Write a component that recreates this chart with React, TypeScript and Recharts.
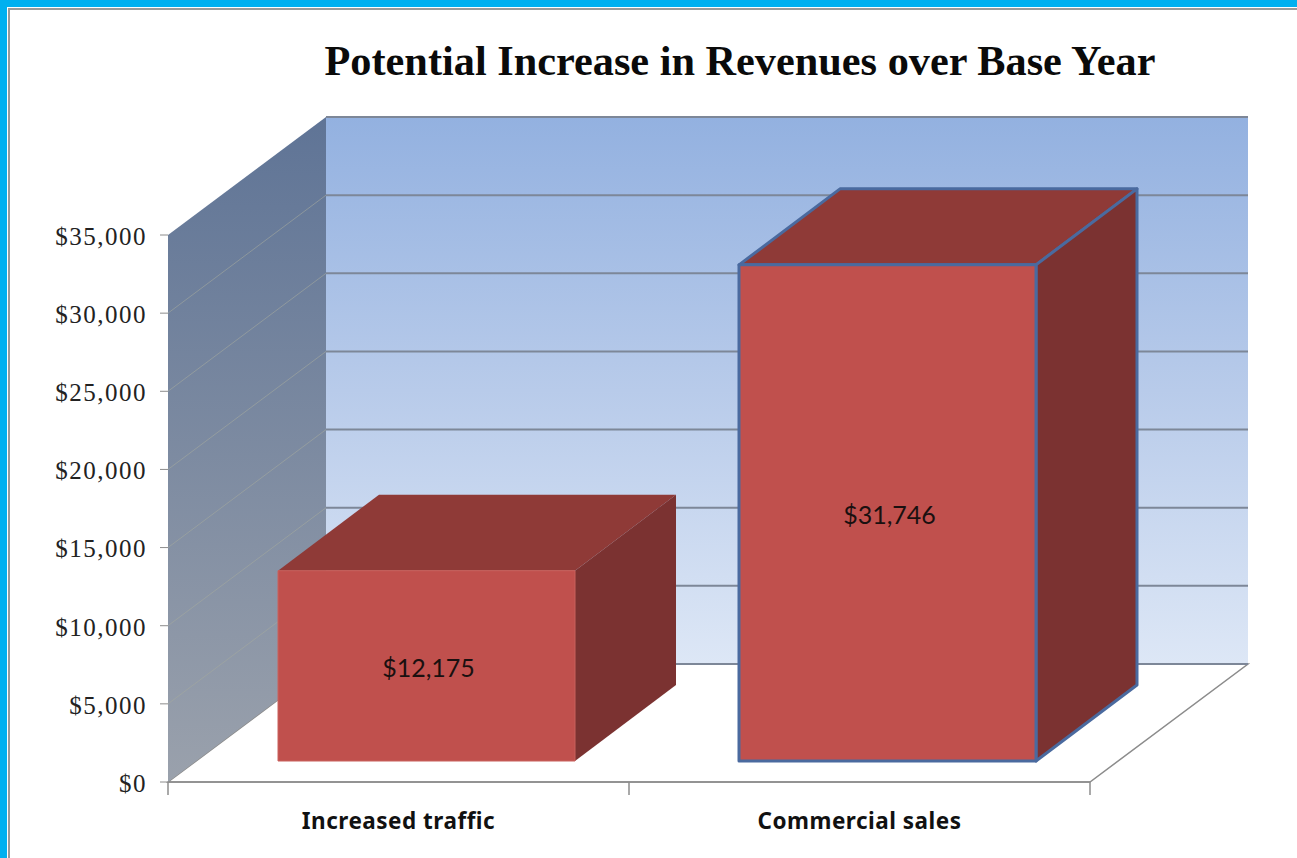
import { Bar, BarChart, LabelList, XAxis, YAxis } from "recharts"

const categories = ["Increased traffic", "Commercial sales"]
const revenues = [12175, 31746]
const yTicks = [0, 5000, 10000, 15000, 20000, 25000, 30000, 35000]
const barOutlines = ["#c9605c", "#4a6a9f"]

const chartData = categories.map((name, i) => ({ name, revenue: revenues[i] }))

const WIDTH = 1297
const HEIGHT = 858
const PLOT = { left: 168, right: 1090, top: 235, bottom: 782 }
const Y_MAX = 35000

// Receding offset of the whole chart box
const WALL_DX = 158
const WALL_DY = -118
// Where the bars sit inside the box, and how deep they are
const BAR_SHIFT_X = 28
const BAR_SHIFT_Y = -21
const BAR_DX = 101
const BAR_DY = -76

const formatDollars = (v: number) => `$${v.toLocaleString("en-US")}`
const valueToY = (v: number) =>
  PLOT.bottom - (v / Y_MAX) * (PLOT.bottom - PLOT.top)

// Side wall, back wall, floor, gridlines and the category separators under the axis
function ChartBox() {
  const { left, right, top, bottom } = PLOT
  const backLeft = left + WALL_DX
  const backRight = right + WALL_DX
  const bandWidth = (right - left) / categories.length
  const separators = [0, ...categories.map((_, i) => i + 1)].map((i) => left + i * bandWidth)
  return (
    <g>
      <defs>
        <linearGradient id="backWall" x1="0" y1="0" x2="0" y2="1">
          <stop offset="0%" stopColor="#93b1e0" />
          <stop offset="50%" stopColor="#b8cbea" />
          <stop offset="100%" stopColor="#dde7f6" />
        </linearGradient>
        <linearGradient id="sideWall" x1="0" y1="0" x2="0" y2="1">
          <stop offset="0%" stopColor="#5f7496" />
          <stop offset="100%" stopColor="#9aa1ac" />
        </linearGradient>
      </defs>
      <polygon
        points={`${left},${bottom} ${backLeft},${bottom + WALL_DY} ${backRight},${bottom + WALL_DY} ${right},${bottom}`}
        fill="#ffffff"
        stroke="#8c8c8c"
        strokeWidth={1.5}
      />
      <rect
        x={backLeft}
        y={top + WALL_DY}
        width={right - left}
        height={bottom - top}
        fill="url(#backWall)"
      />
      <polygon
        points={`${left},${top} ${backLeft},${top + WALL_DY} ${backLeft},${bottom + WALL_DY} ${left},${bottom}`}
        fill="url(#sideWall)"
      />
      {yTicks.map((t) => {
        const y = valueToY(t)
        return (
          <g key={t}>
            {t > 0 && t < Y_MAX && (
              <line x1={left} y1={y} x2={backLeft} y2={y + WALL_DY} stroke="#a3a89f" strokeOpacity={0.6} />
            )}
            <line x1={backLeft} y1={y + WALL_DY} x2={backRight} y2={y + WALL_DY} stroke="#7d8798" strokeWidth={2} />
          </g>
        )
      })}
      {separators.map((x) => (
        <line key={x} x1={x} y1={bottom} x2={x} y2={bottom + 13} stroke="#8c8c8c" strokeWidth={1.5} />
      ))}
    </g>
  )
}

// Front, top and side faces of a bar
function BoxBar(props: any) {
  const { x, y, width, height, index } = props
  const fx = x + BAR_SHIFT_X
  const fy = y + BAR_SHIFT_Y
  const outline = barOutlines[index]
  const thick = index === 1
  const sw = thick ? 3 : 1
  return (
    <g stroke={outline} strokeWidth={sw} strokeLinejoin="round">
      <polygon
        points={`${fx},${fy} ${fx + BAR_DX},${fy + BAR_DY} ${fx + width + BAR_DX},${fy + BAR_DY} ${fx + width},${fy}`}
        fill="#8f3a37"
        stroke={thick ? outline : "none"}
      />
      <polygon
        points={`${fx + width},${fy} ${fx + width + BAR_DX},${fy + BAR_DY} ${fx + width + BAR_DX},${fy + height + BAR_DY} ${fx + width},${fy + height}`}
        fill="#7b3231"
        stroke={thick ? outline : "none"}
      />
      <rect x={fx} y={fy} width={width} height={height} fill="#c0504d" />
    </g>
  )
}

function BarValue(props: any) {
  const { x, y, width, height, value } = props
  return (
    <text
      x={x + BAR_SHIFT_X + width / 2 + 2}
      y={y + BAR_SHIFT_Y + height / 2 + 5}
      textAnchor="middle"
      dominantBaseline="middle"
      fontFamily="Lato, sans-serif"
      fontSize={25}
      fill="#1a1010"
    >
      {formatDollars(value)}
    </text>
  )
}

export default function App() {
  return (
    <div
      style={{
        position: "fixed",
        left: 0,
        top: 0,
        width: WIDTH,
        height: HEIGHT,
        background: "#ffffff",
      }}
    >
      {/* cyan slide border with the thin grey rule just inside it */}
      <div style={{ position: "absolute", left: 0, top: 0, width: WIDTH, height: 7, background: "#00b0f0" }} />
      <div style={{ position: "absolute", left: 0, top: 0, width: 7, height: HEIGHT, background: "#00b0f0" }} />
      <div style={{ position: "absolute", left: 8, top: 8, width: WIDTH - 8, height: 2, background: "#9a9a9a" }} />
      <div style={{ position: "absolute", left: 8, top: 8, width: 2, height: HEIGHT - 8, background: "#9a9a9a" }} />
      <div style={{ position: "absolute", left: 0, top: 0 }}>
        <BarChart
          width={WIDTH}
          height={HEIGHT}
          data={chartData}
          margin={{
            top: PLOT.top,
            left: 0,
            right: WIDTH - PLOT.right,
            bottom: 0,
          }}
          barCategoryGap={82}
        >
          <text
            x={740}
            y={75}
            textAnchor="middle"
            fontFamily="'Liberation Serif', serif"
            fontWeight={700}
            fontSize={42.3}
            fill="#0a0a0a"
          >
            Potential Increase in Revenues over Base Year
          </text>
          <ChartBox />
          <XAxis
            dataKey="name"
            interval={0}
            height={HEIGHT - PLOT.bottom}
            stroke="#8c8c8c"
            strokeWidth={1.5}
            tickLine={false}
            tickSize={13}
            tickMargin={18}
            tick={{
              fontFamily: "'Noto Sans', sans-serif",
              fontWeight: 700,
              fontSize: 22.5,
              letterSpacing: 0.5,
              fill: "#111111",
            }}
          />
          <YAxis
            domain={[0, Y_MAX]}
            ticks={yTicks}
            width={PLOT.left}
            axisLine={false}
            tickSize={8}
            tickMargin={13}
            stroke="#8c8c8c"
            tickFormatter={formatDollars}
            tick={{
              fontFamily: "'Liberation Serif', serif",
              fontSize: 25,
              letterSpacing: 1.5,
              fill: "#222222",
              dy: 1,
            }}
          />
          <Bar dataKey="revenue" isAnimationActive={false} shape={<BoxBar />}>
            <LabelList dataKey="revenue" content={<BarValue />} />
          </Bar>
        </BarChart>
      </div>
    </div>
  )
}
